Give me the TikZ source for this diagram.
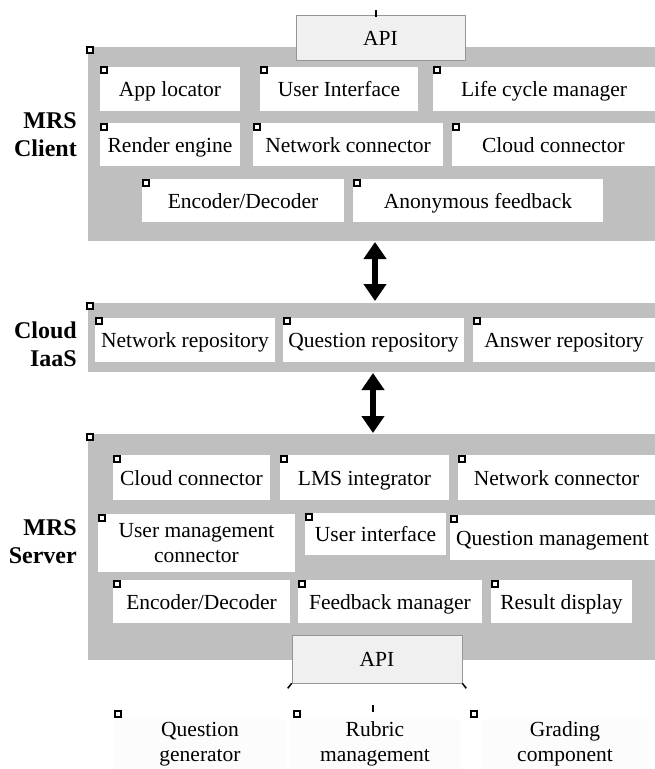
\documentclass[tikz,border=0pt]{standalone}
\usepackage{fontspec}
\setmainfont{Liberation Serif}
\usetikzlibrary{arrows.meta,shadows}
\definecolor{panelgray}{RGB}{191,191,191}
\definecolor{apifill}{RGB}{240,240,240}
\definecolor{apiline}{RGB}{150,150,150}
\definecolor{faint}{RGB}{252,252,252}
\begin{document}
\begin{tikzpicture}[x=1pt,y=-1pt,
  every node/.style={font=\fontsize{21.5}{25}\selectfont},
  panel/.style={fill=panelgray, draw=none},
  box/.style={fill=white, draw=none, inner sep=0pt, align=center},
  one/.style={text height=16pt, text depth=1pt},
  apibox/.style={fill=apifill, draw=apiline, line width=0.6pt, inner sep=0pt, text height=16pt, text depth=1pt, drop shadow={shadow xshift=1pt, shadow yshift=-1pt, opacity=0.25}},
  lab/.style={font=\fontsize{24}{28}\selectfont\bfseries, align=right, anchor=east, inner sep=0pt},
  mk/.style={draw=black, fill=white, line width=1.7pt, minimum size=6pt, inner sep=0pt},
  dbl/.style={line width=6.5pt, {Triangle[width=22pt,length=17pt]}-{Triangle[width=22pt,length=17pt]}},
  tick/.style={line width=1.5pt}
]
\useasboundingbox (0,0) rectangle (655,769);

% ---------- MRS Client ----------
\node[panel, minimum width=567pt, minimum height=194pt, anchor=north west] (client) at (88,47) {};
\path (client.north west) ++(2,3) node[mk] (mc) {};
\node[apibox, minimum width=169pt, minimum height=45pt] (apitop) at (380.5,37.5) {API};
\coordinate (tt1) at (376,10);
\draw[tick] (tt1) -- ++(0,7);

\node[box, one, minimum width=140pt, minimum height=44pt] (app) at (170,88.5) {App locator};
\node[box, one, minimum width=158pt, minimum height=44pt] (ui) at (339,88.5) {User Interface};
\node[box, one, minimum width=222pt, minimum height=44pt] (lcm) at (544,88.5) {Life cycle manager};
\node[box, one, minimum width=140pt, minimum height=43pt] (ren) at (170,144.5) {Render engine};
\node[box, one, minimum width=190pt, minimum height=43pt] (netc) at (348,144.5) {Network connector};
\node[box, one, minimum width=203pt, minimum height=43pt] (cldc) at (553.5,144.5) {Cloud connector};
\node[box, one, minimum width=202pt, minimum height=43pt] (enc) at (243,200.5) {Encoder/Decoder};
\node[box, one, minimum width=250pt, minimum height=43pt] (anon) at (478,200.5) {Anonymous feedback};
\foreach \n in {app,ui,lcm,ren,netc,cldc,enc,anon}{
  \path (\n.north west) ++(4,4) node[mk] {};
}
\node[lab] (lclient) at (77,135) {MRS\\Client};

% ---------- Cloud IaaS ----------
\node[panel, minimum width=567pt, minimum height=69pt, anchor=north west] (cloud) at (88,303) {};
\path (cloud.north west) ++(2,3) node[mk] {};
\node[box, one, minimum width=180pt, minimum height=44pt] (nrep) at (185,339.5) {Network repository};
\node[box, one, minimum width=181pt, minimum height=44pt] (qrep) at (373.5,339.5) {Question repository};
\node[box, one, minimum width=182pt, minimum height=44pt] (arep) at (564,339.5) {Answer repository};
\foreach \n in {nrep,qrep,arep}{
  \path (\n.north west) ++(4,4) node[mk] {};
}
\node[lab] (lcloud) at (77,344) {Cloud\\IaaS};

% ---------- arrows ----------
\coordinate (a1s) at (375,242);
\coordinate (a1e) at (375,301);
\draw[dbl] (a1s) -- (a1e);
\coordinate (a2s) at (373,373);
\coordinate (a2e) at (373,433);
\draw[dbl] (a2s) -- (a2e);

% ---------- MRS Server ----------
\node[panel, minimum width=567pt, minimum height=226pt, anchor=north west] (server) at (88,434) {};
\path (server.north west) ++(2,3) node[mk] {};
\node[box, one, minimum width=157pt, minimum height=45pt] (scc) at (191.5,477.5) {Cloud connector};
\node[box, one, minimum width=169pt, minimum height=45pt] (lms) at (364.5,477.5) {LMS integrator};
\node[box, one, minimum width=197pt, minimum height=45pt] (snc) at (556.5,477.5) {Network connector};
\node[box, minimum width=197pt, minimum height=58pt] (umc) at (196.5,543) {User management\\connector};
\node[box, one, minimum width=141pt, minimum height=42pt] (sui) at (375.5,534) {User interface};
\node[box, one, minimum width=205pt, minimum height=45pt] (qm) at (552.5,537.5) {Question management};
\node[box, one, minimum width=177pt, minimum height=43pt] (senc) at (201.5,601.5) {Encoder/Decoder};
\node[box, one, minimum width=184pt, minimum height=43pt] (fbm) at (390,601.5) {Feedback manager};
\node[box, one, minimum width=141pt, minimum height=43pt] (rd) at (561.5,601.5) {Result display};
\foreach \n in {scc,lms,snc,umc,sui,qm,senc,fbm,rd}{
  \path (\n.north west) ++(4,4) node[mk] {};
}
\node[lab] (lserver) at (77,542) {MRS\\Server};
\node[apibox, minimum width=170pt, minimum height=48pt] (apibot) at (377,659) {API};
\draw[tick] (apibot.south west) -- ++(-4,5);
\draw[tick] (apibot.south east) -- ++(4,5);
\coordinate (tt2) at (373,705);
\draw[tick] (tt2) -- ++(0,7);

% ---------- bottom components ----------
\node[box, fill=faint, minimum width=170pt, minimum height=51pt] (qg) at (200,744) {Question\\generator};
\node[box, fill=faint, minimum width=170pt, minimum height=51pt] (rm) at (375,744) {Rubric\\management};
\node[box, fill=faint, minimum width=165pt, minimum height=51pt] (gc) at (565,744) {Grading\\component};
\node[mk] at (118,714) {};
\node[mk] at (297,714) {};
\node[mk] at (474,714) {};
\end{tikzpicture}
\end{document}
